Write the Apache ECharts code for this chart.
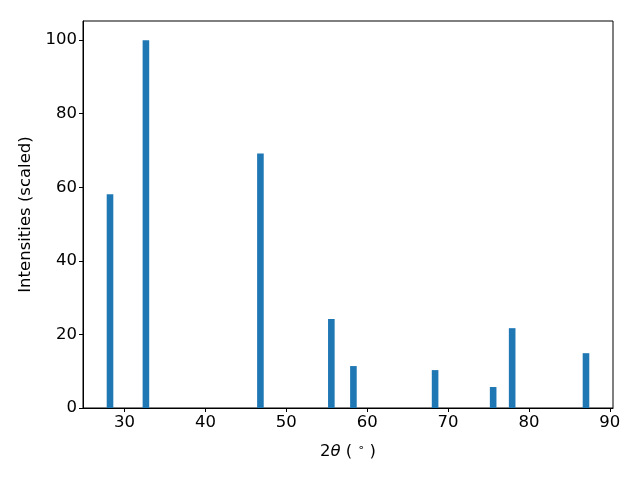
<!DOCTYPE html>
<html>
<head>
<meta charset="utf-8">
<script src="https://cdn.jsdelivr.net/npm/echarts@6/dist/echarts.min.js"></script>
<style>html,body{margin:0;padding:0;background:#fff}#c{width:640px;height:480px}</style>
</head>
<body>
<div id="c"></div>
<script>
const twoTheta = [28.2, 32.64, 46.8, 55.57, 58.3, 68.4, 75.58, 77.93, 87.06];
const intensity = [58.1, 100, 69.2, 24.2, 11.4, 10.3, 5.7, 21.7, 14.9];
const xTicks = [30, 40, 50, 60, 70, 80, 90];
const yTicks = [0, 20, 40, 60, 80, 100];

const chart = echarts.init(document.getElementById('c'));
const font = 'DejaVu Sans';
const fs = 16.5;
chart.setOption({
  animation: false,
  grid: { left: 83, right: 27, top: 21, bottom: 72, show: true, borderColor: '#000', borderWidth: 1 },
  xAxis: {
    type: 'value', min: 24.86, max: 90.4,
    name: '2{i|θ} ( {s|∘} )', nameLocation: 'middle', nameGap: 35,
    nameTextStyle: { fontFamily: font, fontSize: fs, color: '#000',
      rich: { i: { fontStyle: 'italic', fontFamily: font, fontSize: fs }, s: { fontFamily: font, fontSize: 11, verticalAlign: 'top', padding: [0,0,7,0] } } },
    axisLine: { show: true, lineStyle: { color: '#000', width: 1 } },
    axisTick: { show: true, inside: false, length: 4, customValues: xTicks, lineStyle: { color: '#000' } },
    axisLabel: { customValues: xTicks, fontFamily: font, fontSize: fs, color: '#000', margin: 6 },
    splitLine: { show: false }
  },
  yAxis: {
    type: 'value', min: 0, max: 105.2,
    name: 'Intensities (scaled)', nameLocation: 'middle', nameGap: 48,
    nameTextStyle: { fontFamily: font, fontSize: fs, color: '#000' },
    axisLine: { show: true, lineStyle: { color: '#000', width: 1 } },
    axisTick: { show: true, inside: false, length: 4, customValues: yTicks, lineStyle: { color: '#000' } },
    axisLabel: { customValues: yTicks, fontFamily: font, fontSize: fs, color: '#000', margin: 6 },
    splitLine: { show: false }
  },
  series: [{
    type: 'bar',
    data: twoTheta.map((x, i) => [x, intensity[i]]),
    barWidth: 6.6,
    itemStyle: { color: '#1f77b4' }
  }]
});
</script>
</body>
</html>
